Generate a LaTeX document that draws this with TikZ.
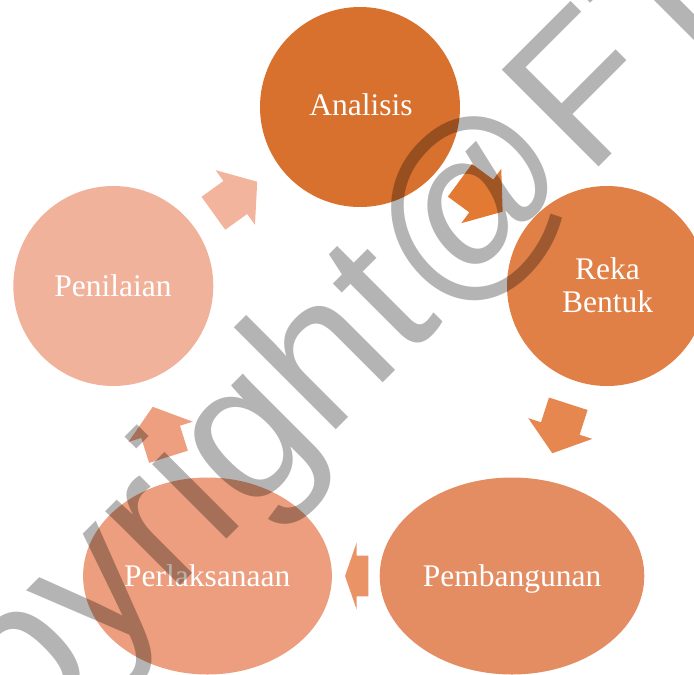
\documentclass[tikz,border=0pt]{standalone}
\usepackage{fontspec}
\setmainfont{Liberation Serif}
\newfontfamily\markfont{Liberation Sans}
\usetikzlibrary{shapes.geometric}

% stage fills, darkest to lightest
\definecolor{cAnalisis}{RGB}{216,112,46}
\definecolor{cReka}{RGB}{224,127,70}
\definecolor{cBangun}{RGB}{229,141,98}
\definecolor{cLaksana}{RGB}{236,158,126}
\definecolor{cNilai}{RGB}{241,178,155}
% block arrow fills
\definecolor{aOne}{RGB}{242,180,156}
\definecolor{aTwo}{RGB}{226,122,52}
\definecolor{aThree}{RGB}{229,135,79}
\definecolor{aFour}{RGB}{233,147,102}
\definecolor{aFive}{RGB}{237,159,127}

% block arrow: colour, centre x, centre y, angle, length
\newcommand\cyclearrow[5]{%
  \pgfmathsetmacro\arhalf{#5/2}%
  \pgfmathsetmacro\arhead{0.5*min(#5,67)}%
  \pgfmathsetmacro\arneck{\arhalf-\arhead}%
  \fill[#1, shift={(#2,#3)}, rotate=#4]
    (-\arhalf,-20.3) -- (\arneck,-20.3) -- (\arneck,-33.7) -- (\arhalf,0)
    -- (\arneck,33.7) -- (\arneck,20.3) -- (-\arhalf,20.3) -- cycle;}

\begin{document}
\begin{tikzpicture}[x=1pt,y=-1pt,
  stage/.style={circle, minimum size=200pt, inner sep=0pt, draw=none},
  oval/.style={ellipse, minimum height=197pt, inner sep=0pt, draw=none},
  lbl/.style={text=white, font=\fontsize{31.5}{33.4}\selectfont, inner sep=0pt, anchor=base},
  wmark/.style={font=\markfont\fontsize{199}{199}\selectfont, text=black,
    text opacity=0.294, rotate=45, anchor=base, inner sep=0pt}]
\useasboundingbox (0,0) rectangle (694,675);
\clip (0,0) rectangle (694,675);

% stages of the cycle
\node[stage, fill=cAnalisis] (analisis) at (360,107) {};
\node[stage, fill=cReka] (reka) at (607,286) {};
\node[oval, fill=cBangun, minimum width=264.6pt] (pembangunan) at (512,576) {};
\node[oval, fill=cLaksana, minimum width=248.8pt] (perlaksanaan) at (207.5,576) {};
\node[stage, fill=cNilai] (penilaian) at (113.3,286) {};

% block arrows between the stages
\cyclearrow{aOne}{235.3}{197.5}{35.7}{54}
\cyclearrow{aTwo}{481.3}{196}{-36.3}{53}
\cyclearrow{aThree}{560.3}{428.5}{-107.9}{52}
\cyclearrow{aFour}{356.7}{576}{180}{23.3}
\cyclearrow{aFive}{160.6}{431.8}{107.5}{52.4}

% labels
\node[lbl] (tAnalisis) at (360.9,115) {Analisis};
\node[lbl, anchor=center, align=center] (tReka) at (607.5,285.3) {Reka\\Bentuk};
\node[lbl] (tPembangunan) at (512.2,586) {Pembangunan};
\node[lbl] (tPerlaksanaan) at (207.3,586) {Perlaksanaan};
\node[lbl] (tPenilaian) at (112.9,296) {Penilaian};

% watermark across the page, anchored at the origin of the F
\node[wmark] (mark) at (587.3,178.8) {\llap{Copyright@}\rlap{FT}};
\end{tikzpicture}
\end{document}
